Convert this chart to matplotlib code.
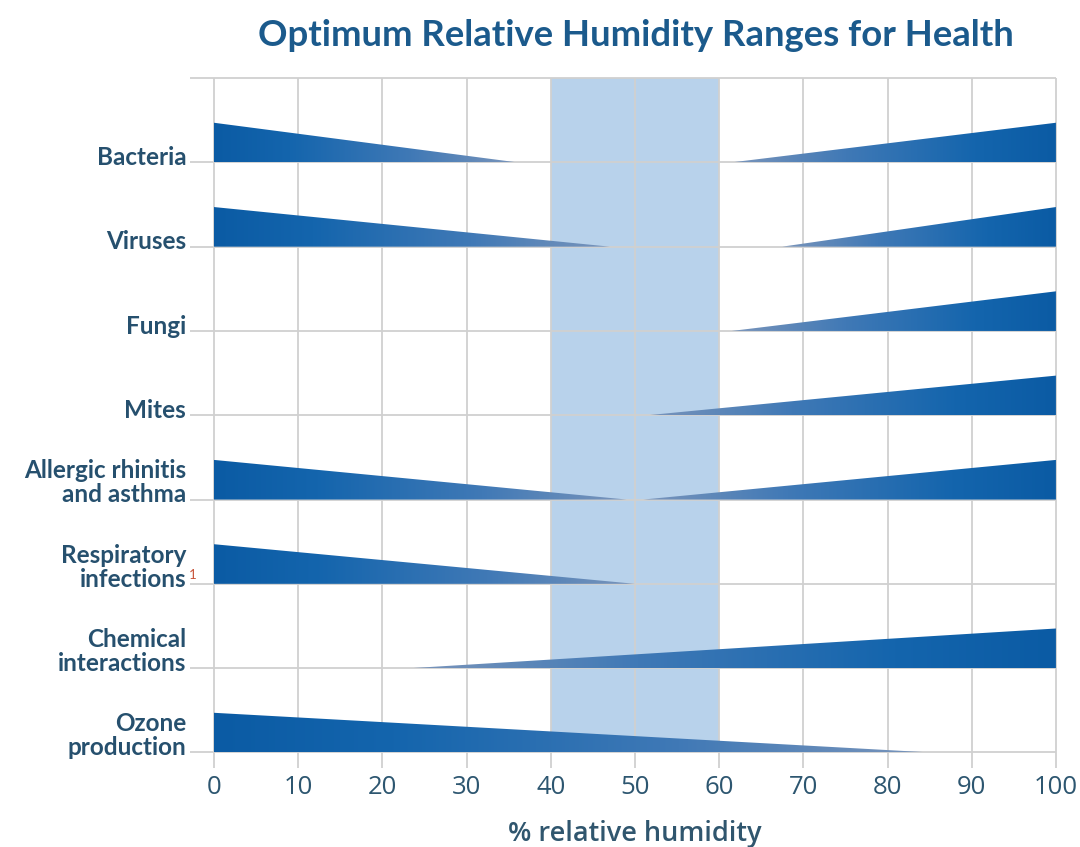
import numpy as np
import matplotlib
matplotlib.use("Agg")
import matplotlib.pyplot as plt
from matplotlib.colors import LinearSegmentedColormap
from matplotlib.patches import Polygon

# humidity risk ranges, one row per health factor
categories = ['Bacteria', 'Viruses', 'Fungi', 'Mites',
              'Allergic rhinitis\nand asthma', 'Respiratory\ninfections',
              'Chemical\ninteractions', 'Ozone\nproduction']
# left wedge runs from 0 % down to this value (None = no wedge)
low_end = [36, 47, None, None, 49, 50, None, 85]
# right wedge starts at this value and grows up to 100 %
high_start = [61.5, 67.5, 61.5, 51.5, 51, None, 23.5, None]
optimum = (40, 60)
ticks = list(range(0, 101, 10))

title_col = '#1b5a8c'
label_col = '#26506e'
grid_col = '#d0d0d0'
band_col = '#b8d2eb'
wedge_cmap = LinearSegmentedColormap.from_list(
    'wedge', [(0.0, '#7a95bb'), (0.35, '#4079b6'), (0.75, '#1465ad'), (1.0, '#0b5ba4')])

fig = plt.figure(figsize=(10.8, 8.47), dpi=100)
ax = fig.add_axes([0.1747, 0.0868, 0.8108, 0.826])
for s in ax.spines.values():
    s.set_visible(False)

n = len(categories)
rows = np.arange(1, n + 1)
h = 0.47

# optimum band and grid
ax.fill_between(optimum, 0, n, color=band_col, lw=0, zorder=0.5)
ax.vlines(ticks, 0, n + 0.18, color=grid_col, lw=1.3, zorder=1)
ax.hlines(np.arange(0, n + 1), -2.8, 100, color=grid_col, lw=1.3, zorder=1)


def wedge(x_thick, x_tip, base):
    poly = Polygon([(x_thick, base), (x_thick, base - h), (x_tip, base)],
                   closed=True, facecolor='none', edgecolor='none', transform=ax.transData)
    ax.add_patch(poly)
    grad = np.linspace(0, 1, 256)
    if x_thick < x_tip:
        grad = grad[::-1]
    lo, hi = min(x_thick, x_tip), max(x_thick, x_tip)
    im = ax.imshow(grad[None, :], cmap=wedge_cmap, aspect='auto',
                   extent=[lo, hi, base, base - h], zorder=2, interpolation='bilinear')
    im.set_clip_path(poly)


for r, lo, hi in zip(rows, low_end, high_start):
    if lo is not None:
        wedge(0, lo, r)
    if hi is not None:
        wedge(100, hi, r)

for r, name in zip(rows, categories):
    ax.text(-3.3, r + 0.08, name, ha='right', va='bottom', fontsize=17.5,
            fontweight='bold', color=label_col, family='Lato',
            linespacing=1.05, clip_on=False)
# footnote marker on respiratory infections
ax.text(-3.0, rows[5] - 0.03, '1', ha='left', va='bottom', fontsize=9.5,
        color='#c8553a', family='Lato', clip_on=False)

ax.set_xlim(-3, 101)
ax.set_ylim(n + 0.25, -0.05)
ax.set_xticks(ticks)
ax.set_xticklabels([str(t) for t in ticks], fontsize=18.5, color='#2d5670', family='Open Sans')
ax.tick_params(axis='x', length=0, pad=1)
ax.set_yticks([])
ax.set_xlabel('% relative humidity', fontsize=19.5, color='#30566e',
              family='Open Sans', fontweight='semibold')
ax.xaxis.set_label_coords(0.5097, -0.066)

fig.text(0.589, 0.958, 'Optimum Relative Humidity Ranges for Health', ha='center', va='center',
         fontsize=26.3, fontweight='bold', color=title_col, family='Lato')

fig.savefig('out.png', dpi=100, facecolor='white')
